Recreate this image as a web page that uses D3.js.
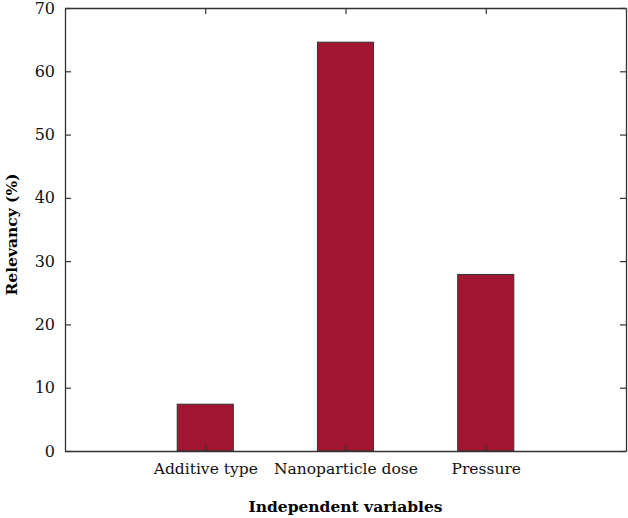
<!DOCTYPE html>
<html>
<head>
<meta charset="utf-8">
<script src="https://cdn.jsdelivr.net/npm/d3@7"></script>
<style>
  body { margin: 0; background: #fff; }
  text { font-family: "DejaVu Serif", serif; }
</style>
</head>
<body>
<svg class="chart"></svg>
<script>
var categories = ["Additive type", "Nanoparticle dose", "Pressure"];
var relevancy = [7.4, 64.6, 27.9];
var yTicks = [0, 10, 20, 30, 40, 50, 60, 70];

var data = categories.map(function(c, i) { return {name: c, pos: i + 1, value: relevancy[i]}; });

var margin = {top: 8, right: 2, bottom: 67, left: 65},
    width = 628 - margin.left - margin.right,
    height = 518 - margin.top - margin.bottom;

var chart = d3.select(".chart").attr("width", 628).attr("height", 518);
var g = chart.append("g").attr("transform", "translate(" + margin.left + "," + margin.top + ")");

var xScale = d3.scaleLinear().domain([0, 4]).range([0, width]);
var yScale = d3.scaleLinear().domain([0, 70]).range([height, 0]);
var barW = xScale(0.4) - xScale(0);

// bars
g.selectAll("rect.bar")
    .data(data)
  .enter().append("rect")
    .attr("class", "bar")
    .attr("x", function(d) { return xScale(d.pos) - barW / 2; })
    .attr("y", function(d) { return yScale(d.value); })
    .attr("width", barW)
    .attr("height", function(d) { return yScale(0) - yScale(d.value); })
    .attr("fill", "#A11530")
    .attr("stroke", "#333")
    .attr("stroke-width", 1);

// axes, ticks inward
var axLeft = g.append("g")
    .call(d3.axisLeft(yScale).tickValues(yTicks).tickSizeInner(-6).tickSizeOuter(0).tickPadding(10));
var axRight = g.append("g").attr("transform", "translate(" + width + ",0)")
    .call(d3.axisRight(yScale).tickValues(yTicks).tickSizeInner(-6).tickSizeOuter(0).tickFormat(""));
var axBottom = g.append("g").attr("transform", "translate(0," + height + ")")
    .call(d3.axisBottom(xScale).tickValues([1, 2, 3]).tickSizeInner(-6).tickSizeOuter(0).tickPadding(12)
      .tickFormat(function(d) { return categories[d - 1]; }));
var axTop = g.append("g")
    .call(d3.axisTop(xScale).tickValues([1, 2, 3]).tickSizeInner(-6).tickSizeOuter(0).tickFormat(""));

[axLeft, axRight, axBottom, axTop].forEach(function(ax) {
  ax.select(".domain").attr("stroke", "#333").attr("stroke-width", 1.3);
  ax.selectAll(".tick line").attr("stroke", "#333").attr("stroke-width", 1.2);
  ax.selectAll("text").attr("fill", "#111").style("font-size", "15.5px")
    .style("font-family", "'DejaVu Serif', serif");
});
axLeft.selectAll("text").style("font-size", "16px");

// axis titles
g.append("text")
    .attr("x", width / 2)
    .attr("y", height + 61)
    .style("text-anchor", "middle")
    .style("font-size", "15.5px")
    .style("font-weight", "bold")
    .text("Independent variables");

g.append("text")
    .attr("transform", "rotate(-90)")
    .attr("x", -height / 2 - 5)
    .attr("y", -48)
    .style("text-anchor", "middle")
    .style("font-size", "15.5px")
    .style("font-weight", "bold")
    .text("Relevancy (%)");
</script>
</body>
</html>
